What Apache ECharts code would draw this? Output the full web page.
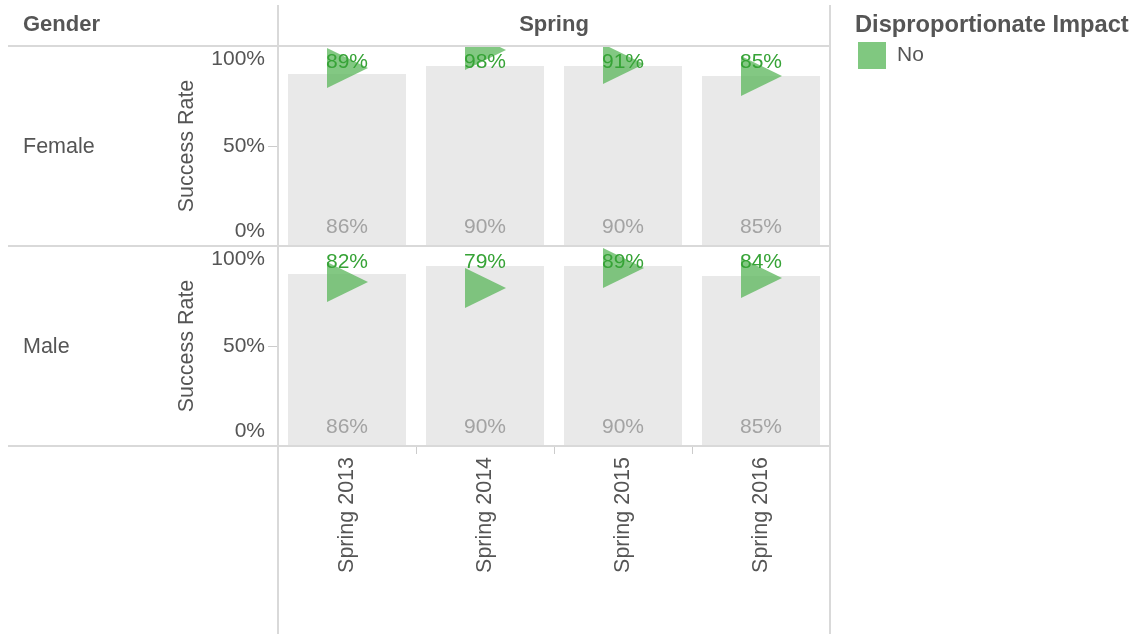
<!DOCTYPE html>
<html>
<head>
<meta charset="utf-8">
<title>Success Rate by Gender</title>
<script src="https://cdn.jsdelivr.net/npm/echarts@6.0.0/dist/echarts.min.js"></script>
<style>
  html, body { margin: 0; padding: 0; background: #fff; }
  #root { width: 1134px; height: 634px; }
</style>
</head>
<body>
<div id="root"></div>
<script>
// data
var terms = ['Spring 2013', 'Spring 2014', 'Spring 2015', 'Spring 2016'];
var genders = ['Female', 'Male'];
// overall success rate (grey bars, same for each row)
var overallRate = [86, 90, 90, 85];
// success rate per gender (green triangles)
var femaleRate = [89, 98, 91, 85];
var maleRate = [82, 79, 89, 84];
var genderRates = [femaleRate, maleRate];
var rateTicks = [0, 50, 100];
var impactGroups = ['No'];

var FONT = '"Liberation Sans", Arial, sans-serif';
var TEXT = '#555555';
var LINE = '#d9d9d9';
var GREEN = '#59b559';

// pane layout
var paneLeft = 278, paneRight = 830, paneTop = 46, rowH = 200;

function renderTriangle(params, api) {
  var p = api.coord([api.value(0), api.value(1)]);
  var cs = params.coordSys;
  return {
    type: 'group',
    children: [
      {
        type: 'polygon',
        shape: { points: [[p[0] - 20, p[1] - 20], [p[0] - 20, p[1] + 20], [p[0] + 21, p[1]]] },
        style: { fill: GREEN, opacity: 0.75 }
      },
      {
        type: 'text',
        x: p[0],
        y: cs.y + 6,
        style: {
          text: api.value(1) + '%',
          fill: '#36a336',
          fontSize: 21,
          fontFamily: FONT,
          align: 'center',
          verticalAlign: 'top'
        }
      }
    ]
  };
}

var grids = [], xAxes = [], yAxes = [], series = [];
var graphics = [];

genders.forEach(function (g, i) {
  grids.push({
    left: paneLeft,
    width: paneRight - paneLeft,
    top: paneTop + i * rowH,
    height: rowH
  });
  var last = i === genders.length - 1;
  xAxes.push({
    type: 'category',
    gridIndex: i,
    data: terms,
    show: last,
    axisLine: { show: false },
    axisTick: { show: true, length: 8, lineStyle: { color: '#cccccc' } },
    axisLabel: { rotate: 90, fontSize: 21.5, fontFamily: FONT, color: TEXT, margin: 11 }
  });
  yAxes.push({
    type: 'value',
    gridIndex: i,
    min: rateTicks[0],
    max: rateTicks[rateTicks.length - 1],
    interval: rateTicks[1] - rateTicks[0],
    name: 'Success Rate',
    nameLocation: 'middle',
    nameGap: 80,
    nameTextStyle: { fontSize: 21.5, fontFamily: FONT, color: TEXT },
    axisLine: { show: false },
    axisTick: { show: true, length: 10, lineStyle: { color: '#cccccc' } },
    splitLine: { show: false },
    axisLabel: {
      fontSize: 21,
      fontFamily: FONT,
      color: TEXT,
      margin: 13,
      formatter: function (v) {
        if (v === rateTicks[rateTicks.length - 1]) return '{top|' + v + '%}';
        if (v === rateTicks[0]) return '{bottom|' + v + '%}';
        return v + '%';
      },
      rich: {
        top: { fontSize: 21, fontFamily: FONT, color: TEXT, padding: [26, 0, 0, 0] },
        bottom: { fontSize: 21, fontFamily: FONT, color: TEXT, padding: [0, 0, 30, 0] }
      }
    }
  });
  series.push({
    name: 'Overall',
    type: 'bar',
    xAxisIndex: i,
    yAxisIndex: i,
    barWidth: 118,
    data: overallRate,
    itemStyle: { color: '#e9e9e9' },
    label: {
      show: true,
      position: 'insideBottom',
      distance: 8,
      formatter: '{c}%',
      fontSize: 21,
      fontFamily: FONT,
      color: '#a3a3a3'
    },
    silent: true
  });
  series.push({
    name: impactGroups[0],
    type: 'custom',
    xAxisIndex: i,
    yAxisIndex: i,
    clip: true,
    itemStyle: { color: GREEN },
    renderItem: renderTriangle,
    encode: { x: 0, y: 1 },
    data: genderRates[i].map(function (v, k) { return [terms[k], v]; }),
    z: 5
  });
  // row header
  graphics.push({
    type: 'text',
    x: 23,
    y: paneTop + i * rowH + rowH / 2 + 1,
    style: { text: g, fontSize: 21.5, fontFamily: FONT, fill: TEXT, verticalAlign: 'middle' }
  });
  // row separator
  graphics.push({
    type: 'line',
    shape: { x1: 8, y1: paneTop + (i + 1) * rowH, x2: paneRight, y2: paneTop + (i + 1) * rowH },
    style: { stroke: LINE, lineWidth: 2 },
    z: 10
  });
});

graphics.push(
  { type: 'line', shape: { x1: 8, y1: paneTop, x2: paneRight, y2: paneTop }, style: { stroke: LINE, lineWidth: 2 }, z: 10 },
  { type: 'line', shape: { x1: paneLeft, y1: 5, x2: paneLeft, y2: 634 }, style: { stroke: LINE, lineWidth: 2 }, z: 10 },
  { type: 'line', shape: { x1: paneRight, y1: 5, x2: paneRight, y2: 634 }, style: { stroke: LINE, lineWidth: 2 }, z: 10 },
  {
    type: 'text', x: 23, y: 25,
    style: { text: 'Gender', font: 'bold 22px ' + FONT, fill: TEXT, verticalAlign: 'middle' }
  },
  {
    type: 'text', x: (paneLeft + paneRight) / 2, y: 25,
    style: { text: 'Spring', font: 'bold 22px ' + FONT, fill: TEXT, align: 'center', verticalAlign: 'middle' }
  },
  {
    type: 'text', x: 855, y: 25,
    style: { text: 'Disproportionate Impact', font: 'bold 23.7px ' + FONT, fill: TEXT, verticalAlign: 'middle' }
  }
);

var option = {
  animation: false,
  backgroundColor: '#ffffff',
  grid: grids,
  xAxis: xAxes,
  yAxis: yAxes,
  series: series,
  legend: {
    left: 858,
    top: 42,
    padding: 0,
    icon: 'rect',
    itemWidth: 28,
    itemHeight: 27,
    selectedMode: false,
    data: impactGroups.map(function (n) {
      return { name: n, itemStyle: { color: '#80c880', opacity: 1 } };
    }),
    textStyle: { fontSize: 21, fontFamily: FONT, color: TEXT, padding: [4, 0, 0, 6] }
  },
  graphic: graphics
};

var myChart = echarts.init(document.getElementById('root'));
myChart.setOption(option);
</script>
</body>
</html>
